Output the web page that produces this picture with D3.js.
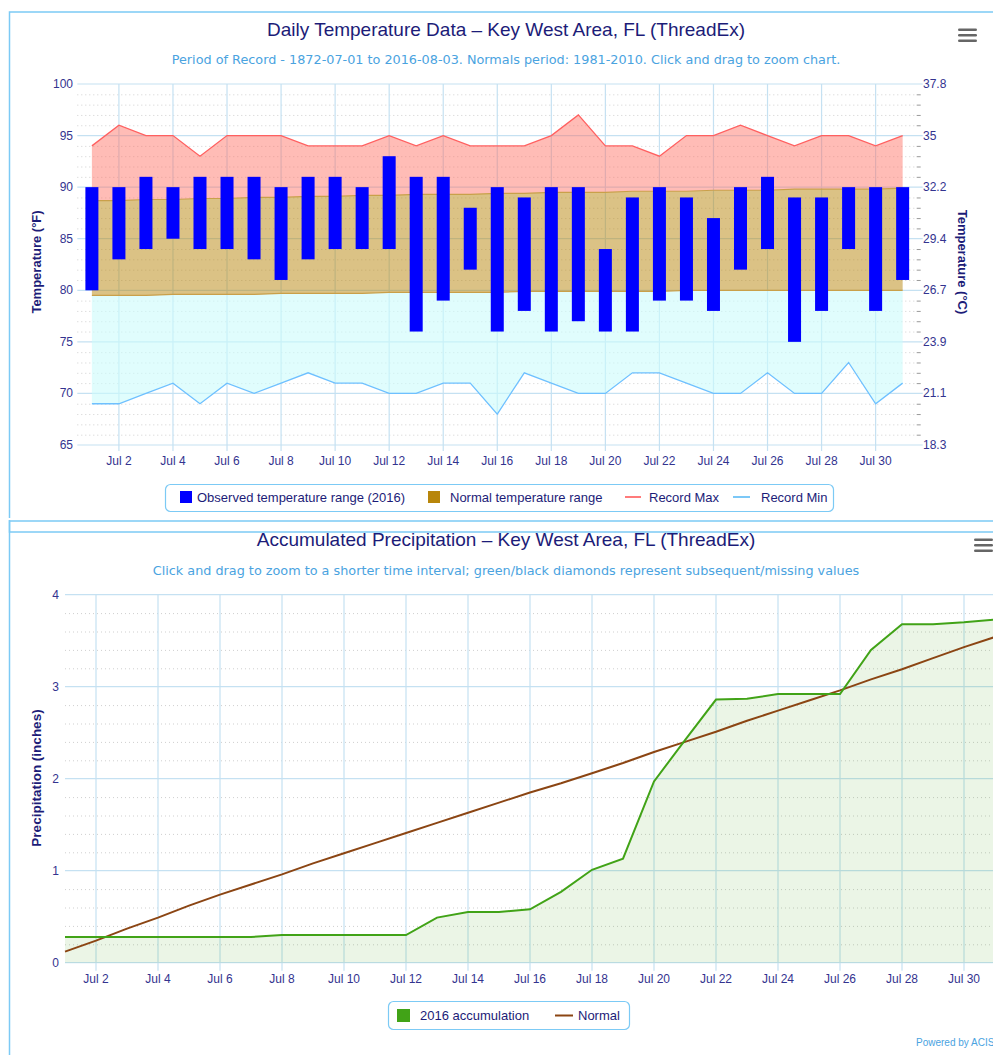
<!DOCTYPE html>
<html lang="en">
<head>
<meta charset="utf-8">
<title>Key West Area, FL (ThreadEx)</title>
<script src="https://cdn.jsdelivr.net/npm/d3@7"></script>
<style>
  body { margin: 0; background: #fff; }
  svg { display: block; font-family: "Liberation Sans", Arial, sans-serif; }
  .sub { font-family: "DejaVu Sans", Verdana, sans-serif; }
</style>
</head>
<body>
<script>
// ---- data: July 2016, days 1..31 ----
const days = [1,2,3,4,5,6,7,8,9,10,11,12,13,14,15,16,17,18,19,20,21,22,23,24,25,26,27,28,29,30,31];
const obsHigh = [90,90,91,90,91,91,91,90,91,91,90,93,91,91,88,90,89,90,90,84,89,90,89,87,90,91,89,89,90,90,90];
const obsLow  = [80,83,84,85,84,84,83,81,83,84,84,84,76,79,82,76,78,76,77,76,76,79,79,78,82,84,75,78,84,78,81];
const recMax  = [94,96,95,95,93,95,95,95,94,94,94,95,94,95,94,94,94,95,97,94,94,93,95,95,96,95,94,95,95,94,95];
const recMin  = [69,69,70,71,69,71,70,71,72,71,71,70,70,71,71,68,72,71,70,70,72,72,71,70,70,72,70,70,73,69,71];
const normHigh = [88.7,88.7,88.8,88.8,88.9,88.9,89.0,89.0,89.1,89.1,89.2,89.2,89.3,89.3,89.3,89.4,89.4,89.5,89.5,89.5,89.6,89.6,89.6,89.7,89.7,89.7,89.8,89.8,89.8,89.8,89.9];
const normLow  = [79.5,79.5,79.5,79.6,79.6,79.6,79.6,79.7,79.7,79.7,79.7,79.8,79.8,79.8,79.8,79.8,79.9,79.9,79.9,79.9,79.9,79.9,80.0,80.0,80.0,80.0,80.0,80.0,80.0,80.0,80.0];

const precip2016   = [0.28,0.28,0.28,0.28,0.28,0.28,0.28,0.30,0.30,0.30,0.30,0.30,0.49,0.55,0.55,0.58,0.77,1.01,1.13,1.97,2.42,2.86,2.87,2.92,2.92,2.92,3.40,3.68,3.68,3.70,3.73];
const precipNormal = [0.12,0.24,0.37,0.49,0.62,0.74,0.85,0.96,1.08,1.19,1.30,1.41,1.52,1.63,1.74,1.85,1.95,2.06,2.17,2.29,2.40,2.51,2.63,2.74,2.85,2.96,3.08,3.19,3.31,3.43,3.54];

const xTickDays   = [2,4,6,8,10,12,14,16,18,20,22,24,26,28,30];
const xTickLabels = ["Jul 2","Jul 4","Jul 6","Jul 8","Jul 10","Jul 12","Jul 14","Jul 16","Jul 18","Jul 20","Jul 22","Jul 24","Jul 26","Jul 28","Jul 30"];
const tempTicksF  = [65,70,75,80,85,90,95,100];
const tempTicksC  = ["18.3","21.1","23.9","26.7","29.4","32.2","35","37.8"];
const precipTicks = [0,1,2,3,4];

const navy = "#1c1c78", tickCol = "#33338f", subCol = "#4aa3df";
const gridCol = "#c5e1f2", border = "#7ccaf5";

var svg = d3.select("body").append("svg").attr("width", 993).attr("height", 1055);

// panels
svg.append("rect").attr("x", 9.5).attr("y", 12).attr("width", 1000).attr("height", 520)
    .attr("fill", "none").attr("stroke", border).attr("stroke-width", 1.5);
svg.append("rect").attr("x", 0).attr("y", 518).attr("width", 993).attr("height", 2).attr("fill", "#fff");
svg.append("rect").attr("x", 9.5).attr("y", 521).attr("width", 1000).attr("height", 560)
    .attr("fill", "none").attr("stroke", border).attr("stroke-width", 1.5);

function menu(x, y) {
  [0, 5.5, 11].forEach(function(o) {
    svg.append("rect").attr("x", x).attr("y", y + o).attr("width", 19).attr("height", 2.6)
      .attr("rx", 1.3).attr("fill", "#666");
  });
}
menu(958, 28.5);
menu(974, 538.5);

function titles(t, s, ty, sy) {
  svg.append("text").attr("x", 506).attr("y", ty).attr("text-anchor", "middle")
    .attr("font-size", 19).attr("fill", navy).text(t);
  svg.append("text").attr("class", "sub").attr("x", 506).attr("y", sy).attr("text-anchor", "middle")
    .attr("font-size", 12.8).attr("fill", subCol).text(s);
}

// ============ Temperature chart ============
titles("Daily Temperature Data \u2013 Key West Area, FL (ThreadEx)",
       "Period of Record - 1872-07-01 to 2016-08-03. Normals period: 1981-2010. Click and drag to zoom chart.", 36, 64);

var x = d3.scaleLinear().domain([0.46, 31.52]).range([77.3, 916.7]);
var y = d3.scaleLinear().domain([65, 100]).range([445, 84]);

var g1 = svg.append("g");
// minor dotted grid
g1.selectAll("line.minor").data(d3.range(66, 100).filter(v => v % 5 !== 0)).enter().append("line")
  .attr("x1", x.range()[0]).attr("x2", x.range()[1]).attr("y1", d => y(d) + 0.5).attr("y2", d => y(d) + 0.5)
  .attr("stroke", "#cfcfcf").attr("stroke-dasharray", "1,3");
g1.selectAll("line.rtick").data(d3.range(66, 100).filter(v => v % 5 !== 0)).enter().append("line")
  .attr("x1", x.range()[1]).attr("x2", x.range()[1] + 4).attr("y1", d => y(d) + 0.5).attr("y2", d => y(d) + 0.5)
  .attr("stroke", "#999");
g1.selectAll("line.major").data(tempTicksF).enter().append("line")
  .attr("x1", x.range()[0]).attr("x2", x.range()[1] + 6).attr("y1", d => y(d)).attr("y2", d => y(d))
  .attr("stroke", gridCol).attr("stroke-width", 1.2);
g1.selectAll("line.vert").data(xTickDays).enter().append("line")
  .attr("x1", d => x(d)).attr("x2", d => x(d)).attr("y1", y(100)).attr("y2", y(65) + 6)
  .attr("stroke", gridCol).attr("stroke-width", 1.2);

var T = days.map((d, i) => ({d: d, hi: obsHigh[i], lo: obsLow[i], rmax: recMax[i], rmin: recMin[i], nh: normHigh[i], nl: normLow[i]}));

var band = (a, b) => d3.area().x(d => x(d.d)).y0(d => y(d[a])).y1(d => y(d[b]));
g1.append("path").datum(T).attr("d", band("nh", "rmax")).attr("fill", "#ff6b5e").attr("fill-opacity", 0.45);
g1.append("path").datum(T).attr("d", band("rmin", "nl")).attr("fill", "#ccfcfc").attr("fill-opacity", 0.6);
g1.append("path").datum(T).attr("d", band("nl", "nh")).attr("fill", "#b8860b").attr("fill-opacity", 0.5);
var ln = k => d3.line().x(d => x(d.d)).y(d => y(d[k]));
g1.append("path").datum(T).attr("d", ln("nh")).attr("fill", "none").attr("stroke", "#c9a04a").attr("stroke-width", 1.2);
g1.append("path").datum(T).attr("d", ln("nl")).attr("fill", "none").attr("stroke", "#c9a04a").attr("stroke-width", 1.2);
g1.append("path").datum(T).attr("d", ln("rmax")).attr("fill", "none").attr("stroke", "#ff6060").attr("stroke-width", 1.3);
g1.append("path").datum(T).attr("d", ln("rmin")).attr("fill", "none").attr("stroke", "#6ec0ff").attr("stroke-width", 1.3);

g1.selectAll("rect.bar").data(T).enter().append("rect")
  .attr("x", d => x(d.d) - 6.5).attr("width", 13)
  .attr("y", d => y(d.hi)).attr("height", d => y(d.lo) - y(d.hi))
  .attr("fill", "#0000ff");

// axes labels
g1.selectAll("text.yl").data(tempTicksF).enter().append("text")
  .attr("x", 73).attr("y", d => y(d) + 4).attr("text-anchor", "end")
  .attr("font-size", 12).attr("fill", tickCol).text(d => d);
g1.selectAll("text.yr").data(tempTicksF).enter().append("text")
  .attr("x", 923).attr("y", d => y(d) + 4).attr("font-size", 12).attr("fill", tickCol)
  .text((d, i) => tempTicksC[i]);
g1.selectAll("text.xl").data(xTickDays).enter().append("text")
  .attr("x", d => x(d)).attr("y", 465).attr("text-anchor", "middle")
  .attr("font-size", 12).attr("fill", tickCol).text((d, i) => xTickLabels[i]);
g1.append("text").attr("transform", "translate(41,262) rotate(-90)").attr("text-anchor", "middle")
  .attr("font-size", 13).attr("font-weight", "bold").attr("fill", navy).text("Temperature (\u00b0F)");
g1.append("text").attr("transform", "translate(958,262) rotate(90)").attr("text-anchor", "middle")
  .attr("font-size", 13).attr("font-weight", "bold").attr("fill", navy).text("Temperature (\u00b0C)");

// legend 1
var L1 = svg.append("g");
L1.append("rect").attr("x", 165.5).attr("y", 484.5).attr("width", 668).attr("height", 27).attr("rx", 5)
  .attr("fill", "#fff").attr("stroke", border).attr("stroke-width", 1.2);
L1.append("rect").attr("x", 180).attr("y", 491).attr("width", 12).attr("height", 12).attr("fill", "#0000ff");
L1.append("text").attr("x", 197).attr("y", 502).attr("font-size", 13).attr("fill", navy).text("Observed temperature range (2016)");
L1.append("rect").attr("x", 428).attr("y", 491).attr("width", 12).attr("height", 12).attr("fill", "#b8860b");
L1.append("text").attr("x", 450).attr("y", 502).attr("font-size", 13).attr("fill", navy).text("Normal temperature range");
L1.append("line").attr("x1", 625).attr("x2", 641).attr("y1", 497).attr("y2", 497).attr("stroke", "#ff7b7b").attr("stroke-width", 2);
L1.append("text").attr("x", 649).attr("y", 502).attr("font-size", 13).attr("fill", navy).text("Record Max");
L1.append("line").attr("x1", 733).attr("x2", 750).attr("y1", 497).attr("y2", 497).attr("stroke", "#7cc8f7").attr("stroke-width", 2);
L1.append("text").attr("x", 761).attr("y", 502).attr("font-size", 13).attr("fill", navy).text("Record Min");

// ============ Precipitation chart ============
titles("Accumulated Precipitation \u2013 Key West Area, FL (ThreadEx)",
       "Click and drag to zoom to a shorter time interval; green/black diamonds represent subsequent/missing values", 546, 575);

var x2 = d3.scaleLinear().domain([1, 31]).range([65, 995]);
var y2 = d3.scaleLinear().domain([0, 4]).range([962.7, 594.7]);
var g2 = svg.append("g");

g2.selectAll("line.minor").data(d3.range(1, 20).filter(v => v % 5 !== 0).map(v => v / 5)).enter().append("line")
  .attr("x1", 65).attr("x2", 993).attr("y1", d => y2(d) + 0.5).attr("y2", d => y2(d) + 0.5)
  .attr("stroke", "#cfcfcf").attr("stroke-dasharray", "1,3");
g2.selectAll("line.major").data(precipTicks).enter().append("line")
  .attr("x1", 65).attr("x2", 993).attr("y1", d => y2(d)).attr("y2", d => y2(d))
  .attr("stroke", gridCol).attr("stroke-width", 1.2);
g2.selectAll("line.vert").data(xTickDays).enter().append("line")
  .attr("x1", d => x2(d)).attr("x2", d => x2(d)).attr("y1", y2(4)).attr("y2", y2(0) + 8)
  .attr("stroke", gridCol).attr("stroke-width", 1.2);

var P = days.map((d, i) => ({d: d, a: precip2016[i], n: precipNormal[i]}));
g2.append("path").datum(P)
  .attr("d", d3.area().x(d => x2(d.d)).y0(y2(0)).y1(d => y2(d.a)))
  .attr("fill", "#45a11b").attr("fill-opacity", 0.11);
g2.append("path").datum(P)
  .attr("d", d3.line().x(d => x2(d.d)).y(d => y2(d.n)))
  .attr("fill", "none").attr("stroke", "#8b4513").attr("stroke-width", 2);
g2.append("path").datum(P)
  .attr("d", d3.line().x(d => x2(d.d)).y(d => y2(d.a)))
  .attr("fill", "none").attr("stroke", "#41a317").attr("stroke-width", 2);

g2.selectAll("text.yl").data(precipTicks).enter().append("text")
  .attr("x", 59).attr("y", d => y2(d) + 4).attr("text-anchor", "end")
  .attr("font-size", 12).attr("fill", tickCol).text(d => d);
g2.selectAll("text.xl").data(xTickDays).enter().append("text")
  .attr("x", d => x2(d)).attr("y", 983).attr("text-anchor", "middle")
  .attr("font-size", 12).attr("fill", tickCol).text((d, i) => xTickLabels[i]);
g2.append("text").attr("transform", "translate(41,778) rotate(-90)").attr("text-anchor", "middle")
  .attr("font-size", 13.5).attr("font-weight", "bold").attr("fill", navy).text("Precipitation (inches)");

// legend 2
var L2 = svg.append("g");
L2.append("rect").attr("x", 388.5).attr("y", 1001.5).attr("width", 241).attr("height", 28).attr("rx", 5)
  .attr("fill", "#fff").attr("stroke", border).attr("stroke-width", 1.2);
L2.append("rect").attr("x", 397).attr("y", 1009).attr("width", 13).attr("height", 13).attr("fill", "#41a317");
L2.append("text").attr("x", 420).attr("y", 1020).attr("font-size", 13).attr("fill", navy).text("2016 accumulation");
L2.append("line").attr("x1", 555).attr("x2", 573).attr("y1", 1015.5).attr("y2", 1015.5).attr("stroke", "#8b4513").attr("stroke-width", 2);
L2.append("text").attr("x", 578).attr("y", 1020).attr("font-size", 13).attr("fill", navy).text("Normal");

svg.append("text").attr("x", 916).attr("y", 1046).attr("font-size", 10).attr("fill", subCol).text("Powered by ACIS");
</script>
</body>
</html>
